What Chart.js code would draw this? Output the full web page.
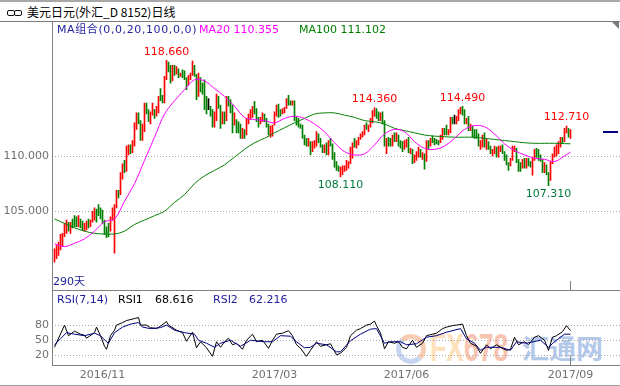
<!DOCTYPE html>
<html><head><meta charset="utf-8">
<script src="https://cdn.jsdelivr.net/npm/chart.js@4.4.1/dist/chart.umd.min.js"></script>
<style>
html,body{margin:0;padding:0;background:#fff;}
#wrap{position:relative;width:620px;height:386px;overflow:hidden;background:#fff;font-family:"DejaVu Sans","Noto Sans CJK SC",sans-serif;}
.t{position:absolute;white-space:nowrap;line-height:16px;font-size:11px;z-index:4;}
.ln{position:absolute;background:#808080;z-index:3;}
canvas{position:absolute;left:0;z-index:2;}
.wm{position:absolute;z-index:1;white-space:nowrap;font-weight:bold;}
</style></head><body>
<div id="wrap">
  <div class="ln" style="left:0;top:0;width:620px;height:2px;background:#a8a8a8"></div>
  <div style="position:absolute;left:7px;top:10px;width:6px;height:4px;border:1.5px solid #111;border-radius:2px;z-index:4"></div>
  <div style="position:absolute;left:14px;top:10px;width:6px;height:4px;border:1.5px solid #111;border-radius:2px;z-index:4"></div>
  <div class="t" style="left:27px;top:4px;font-size:12px;font-family:'Noto Sans CJK SC',sans-serif;color:#000">美元日元(外汇_D 8152)日线</div>
  <div class="ln" style="left:0;top:21px;width:620px;height:1px;background:#7a7a7a"></div>
  <div style="position:absolute;left:612px;top:22px;width:0;height:0;border-top:7px solid #7a7a7a;border-left:7px solid transparent;z-index:4"></div>

  <canvas id="main" width="620" height="268" style="top:22px"></canvas>
  <canvas id="rsi" width="620" height="96" style="top:290px"></canvas>

  <div class="ln" style="left:52px;top:21px;width:1px;height:345px"></div>
  <div class="ln" style="left:52px;top:290px;width:568px;height:1px"></div>
  <div class="ln" style="left:52px;top:365px;width:568px;height:1px"></div>
  <div class="ln" style="left:0;top:385px;width:620px;height:1px;background:#a0a0a0"></div>
  <div class="ln" style="left:570px;top:281px;width:1px;height:9px"></div>
  <div class="ln" style="left:570px;top:357px;width:1px;height:9px"></div>

  <div class="t" style="left:57px;top:22px;color:#1e1e9e;letter-spacing:0.6px">MA组合(0,0,20,100,0,0)</div>
  <div class="t" style="left:199px;top:22px;color:#ff00ff">MA20 110.355</div>
  <div class="t" style="left:299px;top:22px;color:#008000">MA100 111.102</div>
  <div class="t" style="left:53px;top:274px;color:#1e1e9e">290天</div>

  <div class="t" style="left:57px;top:292px;color:#1e1e9e">RSI(7,14)</div>
  <div class="t" style="left:118px;top:292px;color:#000">RSI1</div>
  <div class="t" style="left:155px;top:292px;color:#000">68.616</div>
  <div class="t" style="left:213px;top:292px;color:#1e1e9e">RSI2</div>
  <div class="t" style="left:249px;top:292px;color:#1e1e9e">62.216</div>

  <div style="position:absolute;left:396px;top:334px;width:20px;height:20px;border:5px solid;border-color:#f7b894 #f7b894 #b0c6ea #b0c6ea;border-radius:50%;opacity:0.7;z-index:1"></div>
  <div class="wm" style="left:430px;top:326px;font-family:'Liberation Sans',sans-serif;font-size:38px;line-height:44px;transform:scaleX(0.7);transform-origin:0 0"><span style="color:#fde0bc">FX</span><span style="color:#f8c4b2">678</span></div>
  <div class="wm" style="left:522px;top:330px;font-family:'Noto Sans CJK SC',sans-serif;font-size:27px;line-height:36px;color:#b4c8ea">汇通网</div>
</div>
<script>
// ---- daily candles (index 0 = 2016/09/28 ... 258 = 2017/09/25) ----
const open = [
100.6,100.9,101.2,101.6,101.9,102.9,103.5,103.9,103.1,104.1,
104.2,104.3,103.7,104.2,103.8,103.3,103.5,104.0,103.8,104.1,
104.4,105.2,105.3,104.8,104.8,104.1,103.3,103.4,103.3,104.4,
104.9,105.6,106.8,106.6,108.4,109.1,109.0,110.2,110.9,110.8,
111.0,112.5,113.4,113.2,112.0,112.4,114.5,114.0,113.5,113.9,
114.0,113.8,114.0,115.4,115.1,115.0,117.1,118.1,117.9,117.0,
117.9,117.6,117.9,117.3,117.4,117.3,117.1,116.5,116.9,117.4,
117.7,117.2,115.4,117.0,115.9,115.8,115.4,114.5,114.5,114.1,
112.7,113.8,115.1,114.6,113.1,113.8,113.3,115.3,115.1,114.2,
112.8,113.2,112.8,112.6,111.7,112.3,111.9,113.2,113.3,113.7,
114.3,114.2,113.2,112.9,113.2,113.6,113.3,112.6,112.1,112.6,
112.8,113.7,114.4,114.0,113.9,114.0,114.4,115.0,114.8,114.7,
114.8,113.4,113.3,112.7,112.6,111.8,111.2,110.9,111.3,110.6,
111.0,111.1,111.9,111.4,110.9,110.6,110.8,110.7,111.1,111.0,
110.2,109.3,109.1,108.6,108.5,108.7,108.8,109.0,109.4,109.8,
111.1,111.0,111.3,111.5,111.9,112.1,112.8,112.5,112.7,113.2,
114.0,114.3,113.9,113.3,113.8,113.1,110.9,111.5,111.3,111.1,
111.7,111.6,111.8,111.3,110.9,110.7,110.8,111.4,110.3,110.5,
109.6,109.8,110.0,110.3,109.9,110.1,109.6,111.0,110.9,111.5,
111.5,111.4,111.4,111.3,111.8,112.4,112.3,112.2,112.4,113.3,
113.2,113.1,113.3,113.9,114.0,113.9,113.0,113.3,112.5,112.6,
112.1,112.0,111.9,110.9,111.1,111.9,111.2,111.3,110.7,110.3,
110.4,110.7,110.0,110.6,110.7,110.3,110.1,109.2,109.1,109.6,
110.6,110.7,109.6,109.2,108.9,109.6,109.0,109.6,109.3,109.2,
109.6,110.3,110.3,110.0,109.7,108.7,108.8,108.4,107.8,109.4,
110.1,110.4,110.5,110.8,111.7,111.6,112.3,112.5,112.0];
const high = [
101.6,101.9,102.2,102.9,103.0,103.9,104.2,104.0,104.0,104.3,
104.6,104.5,104.6,104.3,104.1,103.9,104.1,104.3,104.2,105.0,
105.3,105.2,105.6,105.3,105.1,104.2,103.6,103.9,104.5,105.3,
105.6,106.9,106.9,108.5,109.3,109.6,110.9,111.0,111.0,111.4,
113.0,113.9,113.9,113.2,112.9,114.8,114.8,114.2,114.0,114.8,
114.2,114.5,115.4,116.1,115.5,117.2,118.66,118.5,118.2,118.2,
118.2,118.1,117.9,117.5,117.8,117.7,117.1,117.3,117.5,118.6,
118.2,117.4,117.5,117.1,116.6,116.9,115.4,115.2,114.5,114.2,
114.0,115.6,115.4,114.6,114.0,114.0,115.4,115.4,115.1,114.6,
113.9,113.3,113.1,112.9,112.5,112.4,113.4,113.8,114.2,114.5,
114.95,114.3,113.5,113.5,113.9,113.8,113.4,112.9,112.7,112.8,
114.0,114.6,114.7,114.2,114.3,114.4,115.2,115.5,115.0,115.0,
115.0,113.6,113.4,112.9,112.8,111.9,111.6,111.6,111.3,111.3,
111.4,112.2,112.0,111.6,111.0,111.0,111.2,111.4,111.6,111.1,
110.3,109.5,109.1,109.0,109.1,109.1,109.6,109.5,110.8,111.2,
111.6,111.4,111.7,112.0,112.2,112.8,113.0,112.8,113.4,114.1,
114.36,114.3,114.0,113.9,114.0,113.2,111.6,111.7,111.6,111.9,
112.1,112.1,111.9,111.4,111.3,111.4,111.5,111.7,110.7,110.6,
110.1,110.4,110.8,110.6,110.3,110.2,111.4,111.4,111.6,111.8,
111.6,111.5,111.4,111.9,112.5,112.5,112.8,112.4,113.5,113.5,
113.7,113.6,114.2,114.4,114.49,114.2,113.4,113.6,112.9,112.7,
112.4,112.4,112.0,111.4,111.9,112.1,111.5,111.3,110.9,110.6,
110.9,110.8,110.9,110.9,111.0,110.4,110.1,109.4,109.8,110.9,
110.9,110.7,109.7,109.4,109.7,109.8,109.8,109.8,109.5,109.8,
110.6,110.7,110.6,110.1,109.7,109.4,109.2,108.5,109.5,110.2,
110.8,111.0,111.3,111.7,111.7,112.5,112.71,112.5,112.4];
const low = [
100.4,100.7,101.0,101.5,101.8,102.7,103.0,103.2,103.0,103.5,
103.6,103.6,103.6,103.5,103.3,103.2,103.3,103.5,103.6,104.0,
104.2,104.0,104.6,104.3,103.9,102.9,102.6,102.7,103.2,104.2,
101.2,105.3,106.2,106.5,107.9,108.5,108.6,110.1,110.2,110.3,
110.9,112.4,112.9,111.4,111.4,112.2,113.8,113.1,112.9,113.7,
113.4,113.6,113.9,115.0,114.8,114.8,116.9,117.6,116.6,116.8,
117.3,117.4,117.1,117.2,117.1,116.9,116.0,116.4,116.9,117.3,
117.2,115.1,115.4,115.8,115.6,114.2,113.8,114.2,113.6,112.6,
112.6,113.2,114.3,112.5,112.9,112.9,113.2,114.5,113.9,112.1,
112.8,112.1,112.1,111.6,111.6,111.6,111.9,112.9,113.3,113.5,
113.8,113.1,112.6,112.9,113.1,113.1,112.6,111.9,111.7,111.8,
112.8,113.6,113.5,113.6,113.8,113.9,114.3,114.6,114.6,114.6,
113.2,112.8,112.6,112.5,111.6,111.0,110.9,110.9,110.1,110.4,
110.7,110.9,111.2,110.8,110.3,110.3,110.1,110.1,110.9,109.7,
109.0,108.7,108.6,108.11,108.3,108.6,108.7,108.9,109.3,109.8,
110.8,110.7,111.0,111.5,111.7,111.9,112.4,112.2,112.6,113.0,
113.6,113.4,113.2,113.2,112.9,110.9,110.2,110.9,110.9,110.9,
111.3,111.3,110.9,110.7,110.4,110.6,110.8,110.3,110.2,109.3,
109.4,109.6,109.9,109.9,109.7,108.8,109.5,110.6,110.9,111.2,
111.0,111.1,111.0,111.2,111.5,111.9,111.9,111.9,112.1,112.9,
112.9,112.9,113.2,113.8,113.7,112.9,112.9,112.3,112.3,111.7,
111.6,111.6,110.9,110.6,110.8,110.8,110.6,110.6,110.2,110.0,
110.2,109.9,109.9,110.4,110.2,109.6,109.2,108.7,109.1,109.6,
110.4,109.4,108.6,108.6,108.9,108.9,108.9,109.1,109.0,108.26,
109.6,109.9,109.6,109.5,108.5,108.5,108.3,107.31,107.8,109.3,
109.9,110.0,110.2,110.8,111.2,111.3,112.1,111.7,111.6];
const close = [
101.4,101.6,101.7,102.7,102.9,103.5,103.9,103.4,103.8,103.6,
103.8,103.7,104.2,103.8,103.6,103.8,103.9,103.8,104.1,104.8,
105.1,104.4,104.7,104.5,104.1,103.1,102.9,103.0,104.4,105.1,
105.6,106.8,106.6,108.4,109.1,109.0,110.2,110.9,110.8,111.0,
112.5,113.3,113.2,112.0,112.4,114.5,114.0,113.5,113.9,114.0,
113.8,114.0,115.3,115.1,115.0,117.1,118.1,117.9,117.0,117.9,
117.6,117.9,117.3,117.4,117.3,117.1,116.5,116.9,117.4,117.7,
117.2,115.4,117.0,115.9,115.8,115.4,114.3,114.5,114.1,112.7,
113.8,115.1,114.6,113.1,113.8,113.3,115.3,115.1,114.2,112.8,
113.2,112.8,112.6,111.7,112.3,111.9,113.2,113.3,113.7,114.3,
114.2,113.2,112.9,113.2,113.6,113.3,112.6,112.1,112.7,112.8,
113.7,114.4,114.0,113.9,114.0,114.4,115.0,114.8,114.7,114.8,
113.3,113.3,112.7,112.6,111.8,111.2,110.9,111.3,110.6,111.1,
111.1,111.9,111.4,110.9,110.7,110.8,110.7,111.1,111.0,110.2,
109.3,109.1,108.6,108.9,108.9,108.9,109.3,109.4,109.8,111.1,
111.0,111.3,111.5,111.9,112.1,112.8,112.5,112.7,113.2,114.0,
114.3,113.9,113.3,113.8,113.1,110.9,111.5,111.3,111.1,111.7,
111.6,111.8,111.3,110.9,110.8,110.9,111.4,110.4,110.5,109.6,
109.8,110.0,110.3,110.0,110.1,109.6,110.9,110.9,111.5,111.4,
111.4,111.3,111.3,111.8,112.3,112.3,112.2,112.4,113.3,113.2,
113.2,113.3,113.9,114.0,113.9,113.2,113.3,112.5,112.6,112.1,
112.0,111.9,111.1,111.1,111.9,111.3,111.3,110.7,110.3,110.4,
110.7,110.0,110.7,110.7,110.3,110.1,109.2,109.1,109.6,110.6,
110.7,109.6,109.2,108.9,109.6,109.0,109.6,109.3,109.2,109.6,
110.3,110.2,110.2,109.7,108.7,108.8,108.4,107.8,109.4,110.1,
110.5,110.6,110.8,111.6,111.5,112.3,112.5,112.0,112.2];

const maIdx = [0,5,10,15,20,25,30,35,40,45,50,55,60,65,70,75,80,85,90,95,100,105,110,115,120,125,130,135,140,145,150,155,160,165,170,175,180,185,190,195,200,205,210,215,220,225,230,235,240,245,250,255,258];
const ma20 = [102.05,101.8,102.1,102.5,103.2,104.05,104.3,105.9,107.5,109.6,111.7,113.8,115.0,116.0,116.9,116.8,116.1,115.4,114.5,113.5,113.3,113.2,113.0,113.4,113.6,113.4,112.9,112.2,111.2,110.4,110.1,110.2,111.0,112.0,112.4,112.2,111.3,110.7,110.6,110.9,111.6,112.4,112.75,112.65,112.0,111.1,110.5,110.1,109.8,109.7,109.5,110.0,110.355];
const ma100 = [104.3,103.9,103.5,103.2,103.0,102.94,102.94,103.2,103.8,104.2,104.6,105.0,105.8,106.5,107.5,108.2,108.7,109.2,109.9,110.6,111.2,111.6,112.1,112.55,113.0,113.4,113.8,113.9,113.9,113.7,113.5,113.2,113.1,112.9,112.5,112.3,112.1,111.9,111.8,111.75,111.7,111.7,111.7,111.6,111.5,111.4,111.3,111.2,111.15,111.15,111.15,111.12,111.102];

// ---- RSI ----
const rsi1Idx = [0,5,7,10,13,15,16,20,21,23,25,26,28,30,31,34,36,40,42,43,46,48,51,53,56,57,61,64,66,69,71,73,76,79,81,83,85,87,89,91,94,96,99,101,104,107,109,111,114,117,119,121,123,126,128,131,133,136,138,141,143,146,148,151,153,156,158,160,161,163,165,167,170,172,174,176,179,181,184,186,189,191,194,196,199,201,204,206,208,211,213,216,218,221,223,226,228,230,232,235,237,240,242,245,247,249,251,254,256,258];
const rsi1Val = [36,80,59,68,62,60,54,65,76,59,38,32,59,70,80,85,89,93,95,80,80,75,73,78,87,80,70,65,48,66,35,47,35,18,47,36,47,54,41,44,32,50,62,47,50,34,50,62,64,69,59,41,34,18,30,47,38,41,43,21,24,36,59,70,73,80,82,88,79,64,33,47,44,47,36,33,50,36,44,59,62,64,73,76,79,80,82,59,44,38,24,41,33,41,36,30,32,56,41,47,41,56,59,50,30,56,59,67,79,69];
const rsi2Idx = [0,3,6,10,15,20,23,26,27,30,34,38,42,44,48,53,56,60,65,70,72,76,80,83,88,93,98,105,109,113,118,121,125,128,131,136,141,143,148,153,158,161,165,168,173,176,181,186,191,196,203,206,210,213,216,223,228,231,236,243,247,250,255,258];
const rsi2Val = [41,53,65,62,59,64,59,47,44,65,76,82,85,76,73,75,80,70,65,62,50,44,36,44,50,38,50,47,47,59,58,47,35,36,44,41,27,27,49,62,72,73,44,47,47,41,43,56,59,66,73,53,44,30,36,36,30,47,44,50,36,47,62,62];

// ---- axis ticks / labels ----
const priceTicks = [105, 110];
const rsiTicks = [20, 50, 80];
const dateTickIdx = [24, 110, 176, 258];
const dateTickLabels = ['2016/11', '2017/03', '2017/06', '2017/09'];
const peakIdx = [56, 160, 204, 256];
const troughIdx = [143, 247];

Chart.defaults.font.family = '"DejaVu Sans", sans-serif';
Chart.defaults.font.size = 11;

const candleData = high.map((h, i) => ({x: i, y: [low[i], h]}));
const candleColors = close.map((c, i) => c > open[i] ? '#ff0000' : (c < open[i] ? '#008000' : '#000000'));
const pts = (xs, ys) => xs.map((x, k) => ({x: x, y: ys[k]}));

const annot = {
  id: 'annot',
  afterDatasetsDraw(chart) {
    const {ctx, chartArea} = chart;
    const x = chart.scales.x, y = chart.scales.y;
    ctx.save();
    ctx.font = '11px "DejaVu Sans"';
    ctx.textAlign = 'center';
    ctx.textBaseline = 'middle';
    ctx.fillStyle = '#ff0000';
    peakIdx.forEach(i => ctx.fillText(high[i].toFixed(3), x.getPixelForValue(i), y.getPixelForValue(high[i]) - 8.5));
    ctx.fillStyle = '#007a3a';
    troughIdx.forEach(i => ctx.fillText(low[i].toFixed(3), x.getPixelForValue(i), y.getPixelForValue(low[i]) + 8.5));
    const yc = Math.round(y.getPixelForValue(close[close.length - 1]));
    ctx.strokeStyle = '#000080';
    ctx.lineWidth = 2;
    ctx.beginPath();
    ctx.moveTo(chartArea.right - 17, yc);
    ctx.lineTo(chartArea.right - 2, yc);
    ctx.stroke();
    ctx.restore();
  }
};

const xCommon = {type: 'linear', min: -1.25, max: 282.75, offset: false};

new Chart(document.getElementById('main'), {
  type: 'bar',
  data: {datasets: [
    {type: 'line', data: pts(maIdx, ma20), borderColor: '#ff00ff', borderWidth: 1, pointRadius: 0, tension: 0.35, order: 1},
    {type: 'line', data: pts(maIdx, ma100), borderColor: '#008000', borderWidth: 1, pointRadius: 0, tension: 0.35, order: 2},
    {type: 'bar', data: candleData, backgroundColor: candleColors, borderWidth: 0, barThickness: 1, order: 3}
  ]},
  options: {
    responsive: false, animation: false, devicePixelRatio: 1,
    layout: {padding: 0},
    plugins: {legend: {display: false}, tooltip: {enabled: false}},
    scales: {
      x: Object.assign({display: false}, xCommon),
      y: {
        min: 98.74, max: 121.26, position: 'left',
        afterFit(s) { s.width = 52; },
        afterBuildTicks(s) { s.ticks = priceTicks.map(v => ({value: v})); },
        ticks: {callback: v => Number(v).toFixed(3), color: '#707070', padding: 3, font: {size: 11}},
        grid: {color: '#a8a8a8', drawTicks: false, tickLength: 0},
        border: {display: false, dash: [1, 2]}
      }
    }
  },
  plugins: [annot]
});

new Chart(document.getElementById('rsi'), {
  type: 'line',
  data: {datasets: [
    {data: pts(rsi2Idx, rsi2Val), borderColor: '#000080', borderWidth: 1, pointRadius: 0, tension: 0},
    {data: pts(rsi1Idx, rsi1Val), borderColor: '#000000', borderWidth: 1, pointRadius: 0, tension: 0}
  ]},
  options: {
    responsive: false, animation: false, devicePixelRatio: 1,
    layout: {padding: 0},
    plugins: {legend: {display: false}, tooltip: {enabled: false}},
    scales: {
      x: Object.assign({
        position: 'bottom',
        afterFit(s) { s.height = 21; },
        afterBuildTicks(s) { s.ticks = dateTickIdx.map(v => ({value: v})); },
        ticks: {callback: (v, i) => dateTickLabels[i], color: '#707070', padding: 4, maxRotation: 0, autoSkip: false, font: {size: 11}},
        grid: {display: false, drawTicks: false},
        border: {display: false}
      }, xCommon),
      y: {
        min: 0.86, max: 130.6, position: 'left',
        afterFit(s) { s.width = 52; },
        afterBuildTicks(s) { s.ticks = rsiTicks.map(v => ({value: v})); },
        ticks: {color: '#707070', padding: 3, font: {size: 11}},
        grid: {color: '#a8a8a8', drawTicks: false, tickLength: 0},
        border: {display: false, dash: [1, 2]}
      }
    }
  }
});
</script>
</body></html>
